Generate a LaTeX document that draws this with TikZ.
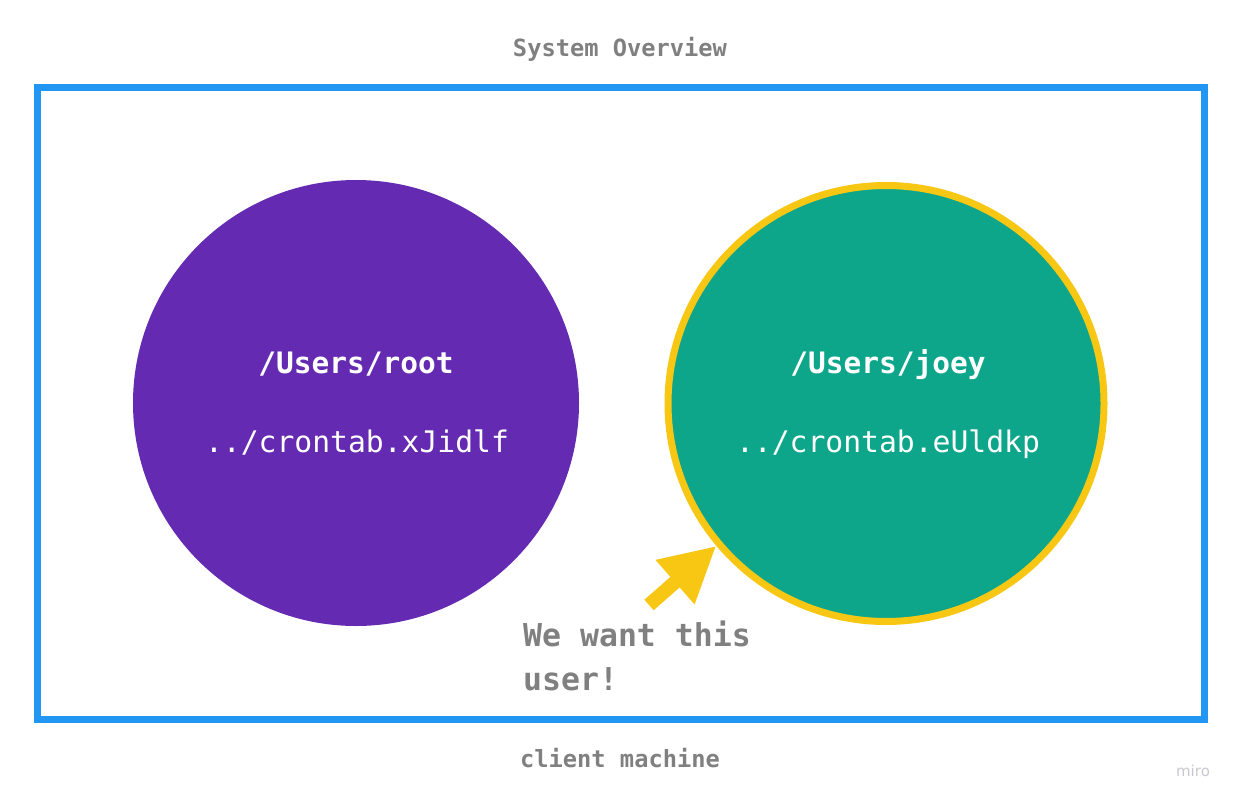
\documentclass[tikz,border=0pt]{standalone}
\usepackage{fontspec}
\setmonofont{DejaVu Sans Mono}
\setsansfont{DejaVu Sans}
\usetikzlibrary{arrows.meta}

\definecolor{frameblue}{RGB}{33,150,243}
\definecolor{rootpurple}{RGB}{100,42,177}
\definecolor{joeygreen}{RGB}{14,166,138}
\definecolor{hintyellow}{RGB}{247,199,20}
\definecolor{labelgray}{RGB}{128,128,128}
\definecolor{mirogray}{RGB}{200,200,210}

\begin{document}
\begin{tikzpicture}[
x=1pt, y=-1pt,
caption/.style={
  text=labelgray,
  font=\ttfamily\bfseries\fontsize{23.7}{28}\selectfont,
  inner sep=0pt
  },
user/.style={
  circle,
  inner sep=0pt
  },
dirlabel/.style={
  text=white,
  font=\ttfamily\bfseries\fontsize{29.5}{34}\selectfont,
  inner sep=0pt
  },
filelabel/.style={
  text=white,
  font=\ttfamily\fontsize{29.7}{34}\selectfont,
  inner sep=0pt
  },
note/.style={
  text=labelgray,
  font=\ttfamily\bfseries\fontsize{31.5}{43.5}\selectfont,
  align=left,
  inner sep=0pt
  }
]
\useasboundingbox (0,0) rectangle (1241,805);

% client machine frame
\node[draw=frameblue, line width=7pt, minimum width=1167pt, minimum height=632pt,
  inner sep=0pt] (machine) at (621,403.5) {};
\node[caption, anchor=base] (title) at (620,57) {System Overview};
\node[caption, anchor=base] (client) at (620,767) {client machine};

% users
\node[user, fill=rootpurple, minimum size=446pt] (root) at (356,403) {};
\node[user, fill=joeygreen, draw=hintyellow, line width=7pt, minimum size=436pt]
  (joey) at (886,403.5) {};

\node[dirlabel, anchor=base] (rootdir) at (356,373) {/Users/root};
\node[filelabel, anchor=base] (rootfile) at (357,452) {../crontab.xJidlf};
\node[dirlabel, anchor=base] (joeydir) at (888,373) {/Users/joey};
\node[filelabel, anchor=base] (joeyfile) at (888,452) {../crontab.eUldkp};

% pointer
\coordinate (hint) at (649,605);
\draw[hintyellow, line width=14pt, -{Triangle[width=55pt,length=55pt]}]
  (hint) -- (joey.220);
\node[note, anchor=west] (want) at (523,656) {We want this\\user!};

\node[font=\sffamily\fontsize{15}{18}\selectfont, text=mirogray, anchor=base,
  inner sep=0pt] (miro) at (1193,776) {miro};
\end{tikzpicture}
\end{document}
